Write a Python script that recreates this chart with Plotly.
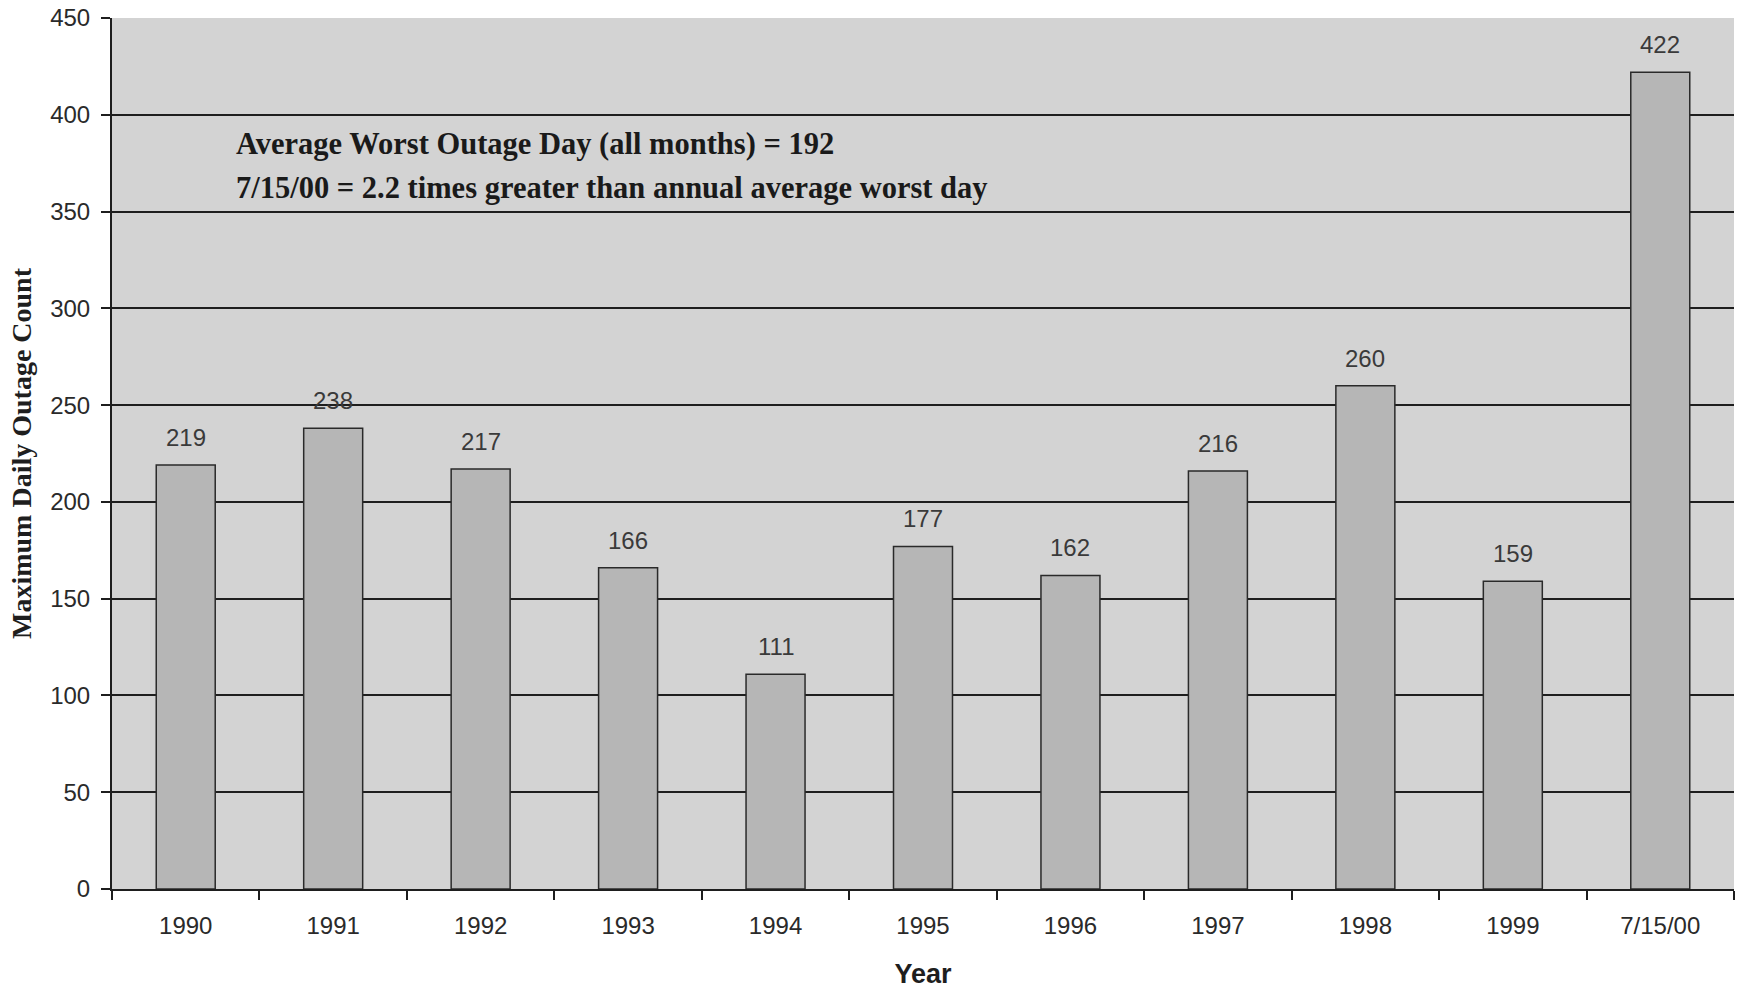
import plotly.graph_objects as go

# Worst single-day outage count for each year, plus the 7/15/00 event
years = ["1990", "1991", "1992", "1993", "1994", "1995", "1996", "1997", "1998", "1999", "7/15/00"]
max_outages = [219, 238, 217, 166, 111, 177, 162, 216, 260, 159, 422]
y_ticks = [0, 50, 100, 150, 200, 250, 300, 350, 400, 450]

note_lines = [
    "Average Worst Outage Day (all months) = 192",
    "7/15/00 = 2.2 times greater than annual average worst day",
]
note_values = [385, 362]

sans = "Liberation Sans, Arial, sans-serif"
serif = "Liberation Serif, Times New Roman, serif"

fig = go.Figure()
fig.add_trace(go.Bar(
    x=years,
    y=max_outages,
    marker=dict(color="#b6b6b6", line=dict(color="#2a2a2a", width=1.5)),
    hoverinfo="x+y",
))

# value labels above each bar (category index used as the x position)
for i, v in enumerate(max_outages):
    fig.add_annotation(
        x=i, y=v, text=str(v), showarrow=False,
        yanchor="bottom", yshift=12,
        font=dict(family=sans, size=24, color="#3a3a3a"),
    )

# two-line note in the upper left of the plot
for line, v in zip(note_lines, note_values):
    fig.add_annotation(
        xref="paper", x=0.075, y=v, text="<b>" + line + "</b>", showarrow=False,
        xanchor="left", yanchor="middle",
        font=dict(family=serif, size=30.5, color="#1a1a1a"),
    )

fig.update_layout(
    width=1743,
    height=991,
    margin=dict(l=112, r=9, t=18, b=102),
    paper_bgcolor="white",
    plot_bgcolor="#d3d3d3",
    bargap=0.6,
    showlegend=False,
    xaxis=dict(
        type="category",
        categoryorder="array",
        categoryarray=years,
        range=[-0.5, len(years) - 0.5],
        automargin=False,
        tickson="boundaries",
        ticks="outside",
        ticklen=9,
        tickwidth=1.5,
        tickcolor="#1e1e1e",
        tickangle=0,
        showline=True,
        linecolor="#1e1e1e",
        linewidth=2,
        showgrid=False,
        tickfont=dict(family=sans, size=24, color="#2a2a2a"),
        ticklabelstandoff=14,
        title=dict(text="<b>Year</b>", font=dict(family=sans, size=27, color="#1e1e1e"), standoff=26),
    ),
    yaxis=dict(
        range=[0, 450],
        tickvals=y_ticks,
        automargin=False,
        ticks="outside",
        ticklen=9,
        tickwidth=1.5,
        tickcolor="#1e1e1e",
        showline=True,
        linecolor="#1e1e1e",
        linewidth=2,
        showgrid=True,
        gridcolor="#1e1e1e",
        gridwidth=1.5,
        zeroline=False,
        tickfont=dict(family=sans, size=24, color="#2a2a2a"),
        ticklabelstandoff=6,
        title=dict(text="<b>Maximum Daily Outage Count</b>", font=dict(family=serif, size=28, color="#1e1e1e"), standoff=10),
    ),
)

fig.write_html("out.html")
